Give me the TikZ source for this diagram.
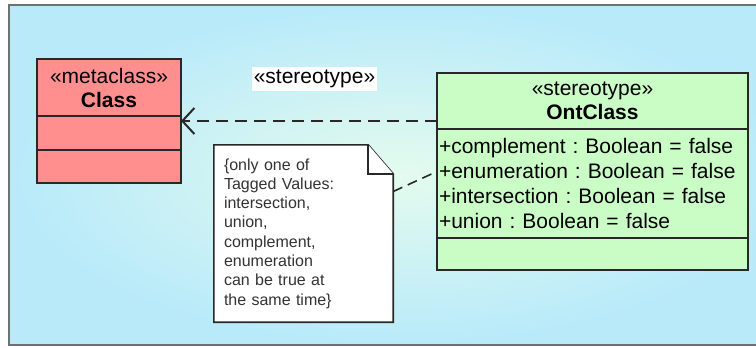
\documentclass[tikz,border=0pt]{standalone}
\usepackage{fontspec}
\setmainfont{Liberation Sans}
\usetikzlibrary{arrows.meta,positioning,backgrounds}
\frenchspacing

\definecolor{clsred}{RGB}{255,143,143}
\definecolor{ontgreen}{RGB}{202,252,198}
\definecolor{boxline}{RGB}{40,40,40}
\definecolor{framegray}{RGB}{112,112,112}
\definecolor{bgin}{RGB}{228,251,238}
\definecolor{bgout}{RGB}{184,234,250}

\begin{document}
\begin{tikzpicture}[
  x=1pt,y=-1pt,
  font=\fontsize{21}{24}\selectfont,
  >={Straight Barb[length=12pt,width=26pt]},
  box/.style={draw=boxline,line width=2pt,outer sep=0pt,inner sep=2pt},
  redbox/.style={box,fill=clsred,minimum width=144pt,align=center},
  greenbox/.style={box,fill=ontgreen,minimum width=311pt},
  lab/.style={fill=white,inner sep=2pt,minimum width=123pt,minimum height=24pt},
  notebox/.style={minimum width=179pt,minimum height=177pt,text width=159pt,
                  inner sep=10pt,align=left,text=black!80,
                  font=\fontsize{16}{19.3}\selectfont},
  noteline/.style={draw=boxline,line width=1.6pt,fill=white,line join=miter},
  dep/.style={->,line width=2pt,draw=boxline,dash pattern=on 12pt off 7pt},
  link/.style={line width=1.6pt,draw=boxline,dash pattern=on 10pt off 6pt},
  frame/.style={draw=framegray,line width=2pt,inner color=bgin,outer color=bgout}
]
\useasboundingbox (0,0) rectangle (756,348);
\begin{scope}[on background layer]
  \draw[frame] (9,5) rectangle (790,345);
\end{scope}

% metaclass
\node[redbox,minimum height=57pt] (classhead) at (109,87.5)
  {«metaclass»\\\textbf{Class}};
\node[redbox,minimum height=34pt,below=0pt of classhead] (classattr) {};
\node[redbox,minimum height=33pt,below=0pt of classattr] (classops) {};

% stereotype
\node[greenbox,minimum height=56pt,align=center] (onthead) at (592.5,101)
  {«stereotype»\\\textbf{OntClass}};
\node[greenbox,minimum height=109pt,below=0pt of onthead,text width=307pt,
      align=left,font=\fontsize{21}{25}\selectfont] (ontattr)
  {+complement : Boolean = false\\+enumeration : Boolean = false\\
   +intersection : Boolean = false\\+union : Boolean = false};
\node[greenbox,minimum height=32pt,below=0pt of ontattr] (ontops) {};

\node[lab] (stlab) at (314.5,79) {«stereotype»};

% note with folded corner
\node[notebox] (note) at (303.5,233.5)
  {\{only one of\\Tagged Values:\\intersection,\\union,\\complement,\\
   enumeration\\can be true at\\the same time\}};
\begin{scope}[on background layer]
  \draw[noteline] (note.north west) -- ([xshift=-25pt]note.north east)
    -- ([yshift=-29pt]note.north east) -- (note.south east)
    -- (note.south west) -- cycle;
  \draw[noteline] ([xshift=-25pt]note.north east)
    -- ([xshift=-25pt,yshift=-29pt]note.north east)
    -- ([yshift=-29pt]note.north east);
\end{scope}

\coordinate (depstart) at ([yshift=-20pt]onthead.west);
\draw[dep] (depstart) -- (depstart -| classattr.east);
\draw[link] ([yshift=42pt]note.east) -- ([yshift=12pt]ontattr.west);

\end{tikzpicture}
\end{document}
